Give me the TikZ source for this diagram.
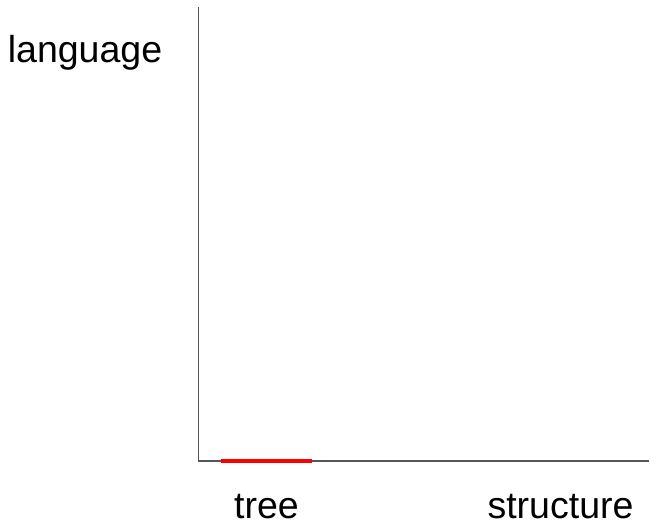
\documentclass[tikz,border=0pt]{standalone}
\usepackage{fontspec}
\setmainfont{Liberation Sans}
\usepackage{tikz}
\usetikzlibrary{positioning}
\usepackage{xcolor}
\definecolor{mAxisGray}{HTML}{555555}
\definecolor{mTreeRed}{HTML}{FF0000}
\tikzset{
  font=\fontsize{37.5}{45}\selectfont,
  axislbl/.style={inner sep=0pt, anchor=base},
  axisln/.style={draw=mAxisGray, line width=1.3pt},
  treeln/.style={draw=mTreeRed, line width=3.6pt}
}

\begin{document}
\begin{tikzpicture}[x=1pt, y=-1pt]
        \useasboundingbox (0,0) rectangle (650,522);
        \coordinate (origin) at (198.5,461);
        \coordinate (ytop) at (198.5,7);
        \coordinate (xend) at (649,461);
        \coordinate (treel) at (221,461);
        \coordinate (treer) at (312,461);

        \node[axislbl] (language) at (85,62) {language};
        \node[axislbl, text depth=0pt] (tree) at (266.5,518) {tree};
        \node[axislbl, text depth=0pt] (structure) at (560.5,518) {structure};

        \draw[axisln] (ytop) -- (origin) -- (xend);
        \draw[treeln] (treel) -- (treer);
      \end{tikzpicture}
\end{document}
